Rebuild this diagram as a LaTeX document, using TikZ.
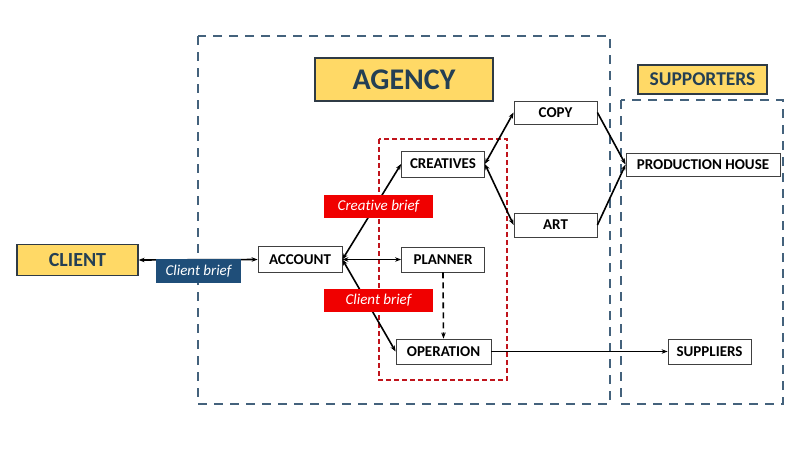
\documentclass[tikz,border=0pt]{standalone}
\usepackage{fontspec}
\setmainfont{Carlito}[Ligatures={NoCommon}]
\usetikzlibrary{arrows.meta}
\definecolor{hdrfill}{HTML}{FFD966}
\definecolor{hdrline}{HTML}{2F3B45}
\definecolor{hdrtext}{HTML}{243F54}
\definecolor{bluelbl}{HTML}{1F4E79}
\definecolor{redlbl}{HTML}{F00000}
\definecolor{zoneblue}{HTML}{44627C}
\definecolor{zonered}{HTML}{C0141C}
\tikzset{
  boxnode/.style={draw=black!75, fill=white, line width=0.8pt, inner sep=0pt,
    font=\fontsize{15}{16}\selectfont\bfseries, text=black},
  hdr/.style={draw=hdrline, fill=hdrfill, line width=1.2pt, inner sep=0pt,
    font=\bfseries, text=hdrtext},
  lbl/.style={inner sep=0pt, text=white, font=\fontsize{15}{16}\selectfont\itshape},
  zone/.style={draw=zoneblue, line width=2.6pt, dash pattern=on 9pt off 7pt},
  redzone/.style={draw=zonered, line width=1.6pt, dash pattern=on 5pt off 3pt},
  conn/.style={line width=1.6pt, draw=black},
  tip/.style={-{Stealth[length=6pt,width=4.5pt]}},
  tips/.style={{Stealth[length=6pt,width=4.5pt]}-{Stealth[length=6pt,width=4.5pt]}}
}
\begin{document}
\begin{tikzpicture}[x=1pt,y=-1pt]
\useasboundingbox (0,0) rectangle (800,450);
% zones
\draw[zone] (198,36) rectangle (610,404);
\draw[zone] (621,100) rectangle (783,404);
\draw[redzone] (379,139) rectangle (507,380);
% headers
\node[hdr, minimum width=121pt, minimum height=31pt, font=\fontsize{20}{22}\selectfont\bfseries] (client) at (77.5,260) {CLIENT};
\node[hdr, minimum width=178pt, minimum height=43pt, font=\fontsize{30}{32}\selectfont\bfseries] (agency) at (404,79.5) {AGENCY};
\node[hdr, minimum width=129pt, minimum height=29pt, font=\fontsize{19.5}{21}\selectfont\bfseries] (supporters) at (702.5,79.5) {SUPPORTERS};
% boxes
\node[boxnode, minimum width=84pt, minimum height=26pt] (account) at (300,259.5) {ACCOUNT};
\node[boxnode, minimum width=83pt, minimum height=26pt] (creatives) at (443,164) {CREATIVES};
\node[boxnode, minimum width=83pt, minimum height=25pt] (planner) at (443,259.5) {PLANNER};
\node[boxnode, minimum width=95pt, minimum height=25pt] (operation) at (443.5,351.5) {OPERATION};
\node[boxnode, minimum width=83pt, minimum height=23pt] (copy) at (555.5,112.5) {COPY};
\node[boxnode, minimum width=83pt, minimum height=24pt] (art) at (555.5,225) {ART};
\node[boxnode, minimum width=154pt, minimum height=23pt] (prod) at (703,164.5) {PRODUCTION HOUSE};
\node[boxnode, minimum width=83pt, minimum height=25pt] (suppliers) at (709.5,351.5) {SUPPLIERS};
% connectors
\draw[conn, tips] (client.east) -- (account.west);
\draw[conn, tips] (account.east) -- (creatives.west);
\draw[conn, tips] (account.east) -- (planner.west);
\draw[conn, tips] (account.east) -- (operation.west);
\draw[conn, tip, dashed, dash pattern=on 6pt off 4pt] (planner.south) -- (operation.north);
\draw[conn, tips] (creatives.east) -- (copy.west);
\draw[conn, tips] (creatives.east) -- (art.west);
\draw[conn, tip] (copy.east) -- (prod.west);
\draw[conn, tip] (art.east) -- (prod.west);
\draw[conn, tip] (operation.east) -- (suppliers.west);
% labels
\node[lbl, fill=bluelbl, minimum width=85pt, minimum height=24pt] (cbrief) at (198.5,271) {Client brief};
\node[lbl, fill=redlbl, minimum width=109pt, minimum height=23pt] (crbrief) at (378.5,206.5) {Creative brief};
\node[lbl, fill=redlbl, minimum width=109pt, minimum height=23pt] (cbrief2) at (378.5,300.5) {Client brief};
\end{tikzpicture}
\end{document}
